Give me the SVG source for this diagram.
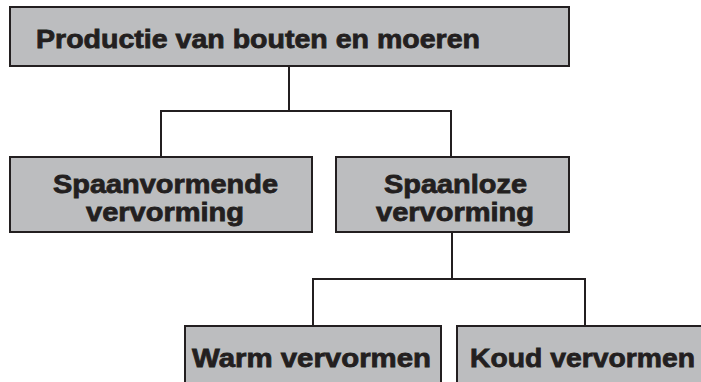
<svg xmlns="http://www.w3.org/2000/svg" width="701" height="382" viewBox="0 0 701 382">
<style>
.box{fill:#bcbdbf;stroke:#231f20;stroke-width:2}
.lbl{font-family:"Liberation Sans",Arial,sans-serif;font-weight:bold;font-size:26px;fill:#231f20;stroke:#231f20;stroke-width:0.8}
.con{fill:none;stroke:#231f20;stroke-width:2}
</style>
<rect width="701" height="382" fill="#ffffff"/>
<g id="connectors">
<polyline class="con" points="289,66 289,111"/>
<polyline class="con" points="161,157 161,111 451,111 451,157"/>
<polyline class="con" points="452,232 452,279"/>
<polyline class="con" points="313,326 313,279 585,279 585,326"/>
</g>
<g id="n-productie">
<rect class="box" x="10" y="7" width="559" height="59"/>
<text class="lbl" x="36" y="48" textLength="444" lengthAdjust="spacingAndGlyphs">Productie van bouten en moeren</text>
</g>
<g id="n-spaanvormende">
<rect class="box" x="10" y="157" width="302" height="75"/>
<text class="lbl" x="53" y="193" textLength="225" lengthAdjust="spacingAndGlyphs">Spaanvormende</text>
<text class="lbl" x="86" y="221" textLength="158" lengthAdjust="spacingAndGlyphs">vervorming</text>
</g>
<g id="n-spaanloze">
<rect class="box" x="336" y="157" width="233" height="75"/>
<text class="lbl" x="384" y="193" textLength="143" lengthAdjust="spacingAndGlyphs">Spaanloze</text>
<text class="lbl" x="376" y="221" textLength="158" lengthAdjust="spacingAndGlyphs">vervorming</text>
</g>
<g id="n-warm">
<rect class="box" x="185" y="326" width="256" height="70"/>
<text class="lbl" x="192" y="367" textLength="239" lengthAdjust="spacingAndGlyphs">Warm vervormen</text>
</g>
<g id="n-koud">
<rect class="box" x="457" y="326" width="260" height="70"/>
<text class="lbl" x="470" y="367" textLength="225" lengthAdjust="spacingAndGlyphs">Koud vervormen</text>
</g>
</svg>
